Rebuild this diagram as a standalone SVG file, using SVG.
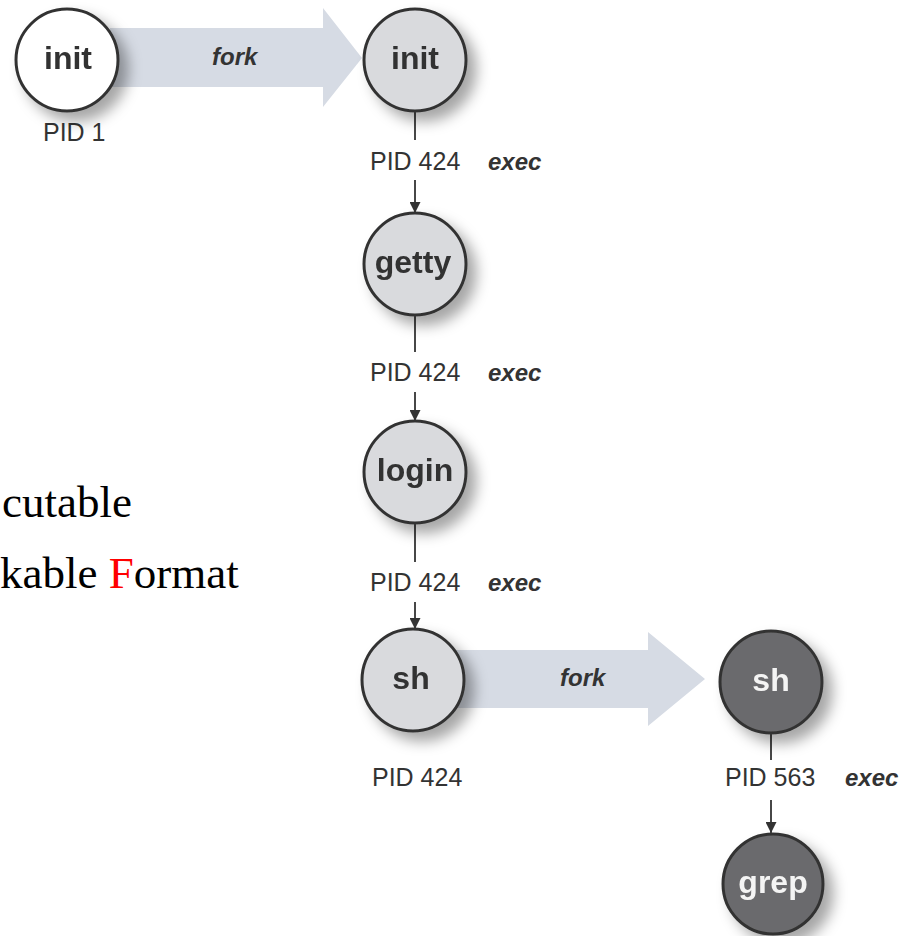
<svg xmlns="http://www.w3.org/2000/svg" width="913" height="936" viewBox="0 0 913 936">
<style>
.node{stroke:#333;stroke-width:3}
.light{fill:#d9dadd}
.white{fill:#ffffff}
.dark{fill:#6b6b6d}
.nl{font-family:"Liberation Sans",Arial,sans-serif;font-weight:bold;font-size:32px;text-anchor:middle;fill:#333}
.nd{fill:#f4f4f4}
.pid{font-family:"Liberation Sans",Arial,sans-serif;font-size:25px;fill:#333}
.ex{font-family:"Liberation Sans",Arial,sans-serif;font-size:24px;font-weight:bold;font-style:italic;fill:#333}
.fork{fill:#d6dbe4}
.conn{stroke:#333;stroke-width:1.8;fill:none}
.serif{font-family:"Liberation Serif","Times New Roman",serif;font-size:45px;fill:#000}
</style>
<defs>
<filter id="sh" x="-30%" y="-30%" width="170%" height="170%">
<feGaussianBlur in="SourceAlpha" stdDeviation="7"/>
<feOffset dx="9" dy="9" result="b"/>
<feFlood flood-color="#000" flood-opacity="0.35"/>
<feComposite in2="b" operator="in"/>
<feMerge><feMergeNode/><feMergeNode in="SourceGraphic"/></feMerge>
</filter>
<marker id="ah" viewBox="0 0 10 10" refX="10" refY="5" markerWidth="12" markerHeight="11" markerUnits="userSpaceOnUse" orient="auto">
<path d="M0,0 L10,5 L0,10 Z" fill="#333"/>
</marker>
</defs>
<rect width="913" height="936" fill="#ffffff"/>

<g id="connectors">
<g id="fork1">
<polygon class="fork" points="110,28 323,28 323,8 362,58 323,107 323,87 110,87"/>
<text class="ex" x="212" y="65">fork</text>
</g>
<g id="fork2">
<polygon class="fork" points="455,650 648,650 648,632 705,679 648,726 648,708 455,708"/>
<text class="ex" x="560" y="686">fork</text>
</g>
<line class="conn" x1="415" y1="111" x2="415" y2="140"/>
<line class="conn" x1="415" y1="180" x2="415" y2="213" marker-end="url(#ah)"/>
<line class="conn" x1="415" y1="315" x2="415" y2="352"/>
<line class="conn" x1="415" y1="392" x2="415" y2="421" marker-end="url(#ah)"/>
<line class="conn" x1="415" y1="523" x2="415" y2="562"/>
<line class="conn" x1="415" y1="602" x2="415" y2="629" marker-end="url(#ah)"/>
<line class="conn" x1="771" y1="733" x2="771" y2="760"/>
<line class="conn" x1="771" y1="800" x2="771" y2="833" marker-end="url(#ah)"/>
</g>

<g id="labels">
<text class="pid" x="43" y="141">PID 1</text>
<text class="pid" x="370" y="170">PID 424</text>
<text class="ex" x="488" y="170">exec</text>
<text class="pid" x="370" y="381">PID 424</text>
<text class="ex" x="488" y="381">exec</text>
<text class="pid" x="370" y="591">PID 424</text>
<text class="ex" x="488" y="591">exec</text>
<text class="pid" x="372" y="786">PID 424</text>
<text class="pid" x="725" y="786">PID 563</text>
<text class="ex" x="845" y="786">exec</text>
</g>

<g id="node-init1" filter="url(#sh)">
<circle class="node white" cx="67" cy="60" r="51"/>
<text class="nl" x="68" y="69">init</text>
</g>
<g id="node-init2" filter="url(#sh)">
<circle class="node light" cx="415" cy="60" r="51"/>
<text class="nl" x="415" y="69">init</text>
</g>
<g id="node-getty" filter="url(#sh)">
<circle class="node light" cx="415" cy="264" r="51"/>
<text class="nl" x="413" y="273">getty</text>
</g>
<g id="node-login" filter="url(#sh)">
<circle class="node light" cx="415" cy="472" r="51"/>
<text class="nl" x="415" y="481">login</text>
</g>
<g id="node-sh1" filter="url(#sh)">
<circle class="node light" cx="413" cy="680" r="51"/>
<text class="nl" x="411" y="689">sh</text>
</g>
<g id="node-sh2" filter="url(#sh)">
<circle class="node dark" cx="771" cy="682" r="51"/>
<text class="nl nd" x="771" y="691">sh</text>
</g>
<g id="node-grep" filter="url(#sh)">
<circle class="node dark" cx="773" cy="884" r="50"/>
<text class="nl nd" x="773" y="893">grep</text>
</g>

<g id="overlay-text">
<text class="serif" x="2" y="517">cutable</text>
<text class="serif" x="0" y="588">kable <tspan fill="#ff0000">F</tspan>ormat</text>
</g>
</svg>
